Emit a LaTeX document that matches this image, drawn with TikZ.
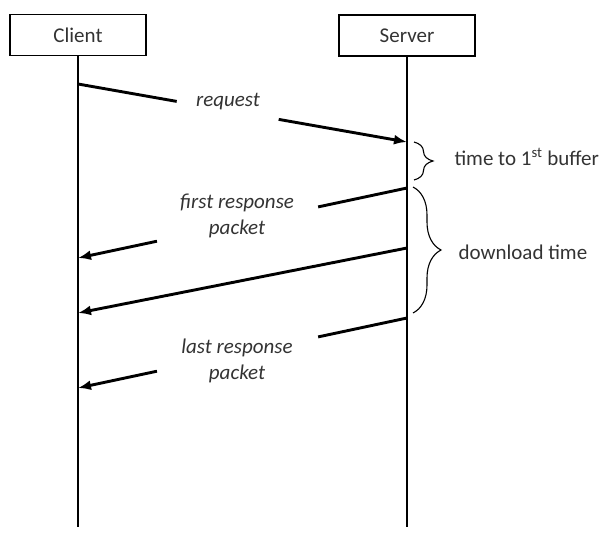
\documentclass[tikz,border=0pt]{standalone}
\usepackage{fontspec}
\setmainfont{Carlito}
\usetikzlibrary{arrows.meta,calc,decorations.pathreplacing}

\begin{document}
\begin{tikzpicture}[x=1pt,y=-1pt,>={Latex[length=13pt,width=10pt]},
  every node/.style={font=\fontsize{21}{26}\selectfont, text=black!80},
  actor/.style={draw=black, line width=1.6pt, minimum width=136pt, minimum height=41pt},
  lifeline/.style={line width=1.8pt},
  msg/.style={line width=2.9pt},
  lbl/.style={font=\fontsize{21}{26}\selectfont\itshape, align=center},
  timebrace/.style={decorate, decoration={brace, amplitude=#1}, line width=1.1pt}]
\useasboundingbox (0,0) rectangle (605,533);
% the two parties
\node[actor] (client) at (78,35) {Client};
\node[actor] (server) at (407,35.5) {Server};
\coordinate (clientend) at (78,527);
\coordinate (serverend) at (407,527);
\draw[lifeline] (client.south) -- (clientend);
\draw[lifeline] (server.south) -- (serverend);
% points on the lifelines
\coordinate (c1) at (78,84);
\coordinate (s1) at (407,142);
\coordinate (s2) at (407,188);
\coordinate (c2) at (78,258);
\coordinate (s3) at (407,248);
\coordinate (c3) at (78,313);
\coordinate (s4) at (407,318);
\coordinate (c4) at (78,388);
% request
\draw[msg] (c1) -- ($(c1)!0.30!(s1)$);
\draw[msg,->] ($(c1)!0.61!(s1)$) -- (s1);
\node[lbl] (request) at (228,102) {request};
% first response packet
\draw[msg] (s2) -- ($(s2)!0.27!(c2)$);
\draw[msg,->] ($(s2)!0.76!(c2)$) -- (c2);
\node[lbl] (firstresp) at (237,216) {first response\\packet};
% middle packet
\draw[msg,->] (s3) -- (c3);
% last response packet
\draw[msg] (s4) -- ($(s4)!0.27!(c4)$);
\draw[msg,->] ($(s4)!0.76!(c4)$) -- (c4);
\node[lbl] (lastresp) at (237,361) {last response\\packet};
% timings
\draw[timebrace=19pt] (414,142) -- (414,180);
\node[anchor=west] (ttfb) at (451,157) {time to 1\textsuperscript{st} buffer};
\draw[timebrace=28pt] (413,187) -- (413,313);
\node[anchor=west] (dltime) at (455,252) {download time};
\end{tikzpicture}
\end{document}
